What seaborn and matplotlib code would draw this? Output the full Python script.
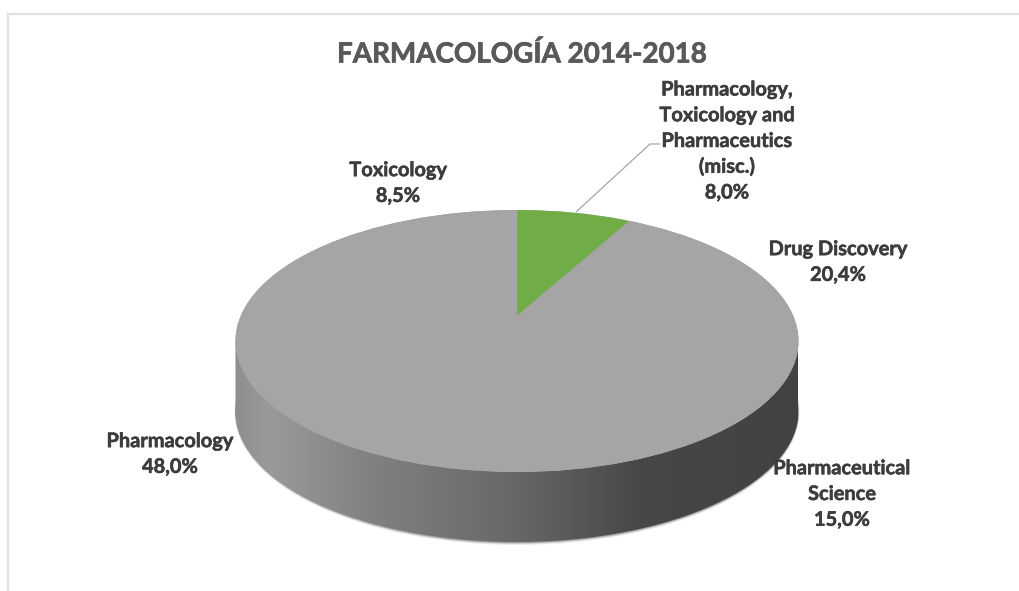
import numpy as np
import matplotlib
matplotlib.use("Agg")
import matplotlib.pyplot as plt
import matplotlib.patheffects as pe
from matplotlib.patches import Ellipse, Circle, PathPatch
from matplotlib.path import Path
from matplotlib.colors import LinearSegmentedColormap
import seaborn as sns

title = "FARMACOLOGÍA 2014-2018"
categories = ["Pharmacology,\nToxicology and\nPharmaceutics\n(misc.)", "Drug Discovery",
              "Pharmaceutical\nScience", "Pharmacology", "Toxicology"]
values = [8.0, 20.4, 15.0, 48.0, 8.5]
slice_colors = ["#70AD47", "#A5A5A5", "#A5A5A5", "#A5A5A5", "#A5A5A5"]

W, H = 1020, 591
CX, CY, RX, RY, DEPTH, APEX = 517, 341, 281.5, 131, 70, 316

sns.set_theme(style="white")
plt.rcParams['font.family'] = ['Lato', 'DejaVu Sans']
palette = sns.color_palette(slice_colors)

fig = plt.figure(figsize=(W / 100, H / 100), dpi=100, facecolor="white")
bg = fig.add_axes([0, 0, 1, 1])
bg.set_xlim(0, W)
bg.set_ylim(H, 0)
bg.axis("off")

# chart frame, cropped at right and bottom
bg.plot([8.5, 8.5, W], [H, 13.5, 13.5], color="#E2E2E2", lw=1.6, solid_joinstyle="miter")

# soft shadow under the wall
for grow, alpha in [(3.0, 0.08), (2.0, 0.14), (1.0, 0.22)]:
    bg.add_patch(Ellipse((CX, CY + DEPTH + grow * 0.4), 2 * (RX + grow * 0.3), 2 * (RY + grow * 0.6),
                         fc="black", ec="none", alpha=alpha, zorder=0.5))

# wall of the disc: horizontal gradient clipped to the extruded ellipse
t = np.linspace(0, np.pi, 200)
xs = CX + RX * np.cos(t)
ys = CY + DEPTH + RY * np.sin(t)
verts = np.column_stack([np.r_[CX + RX, xs, CX - RX], np.r_[CY, ys, CY]])
wall = Path(np.r_[verts, verts[:1]], closed=True)
wall_patch = PathPatch(wall, transform=bg.transData, fc="none", ec="none")
bg.add_patch(wall_patch)
cmap = LinearSegmentedColormap.from_list("wall", [
    (0.0, "#8E8E8E"), (0.06, "#9A9A9A"), (0.25, "#808080"), (0.5, "#676767"),
    (0.72, "#474747"), (1.0, "#424242")])
grad = np.linspace(0, 1, 512)[None, :]
im = bg.imshow(grad, cmap=cmap, vmin=0, vmax=1, aspect="auto", zorder=1,
               extent=(CX - RX, CX + RX, CY + DEPTH + RY, CY), interpolation="bilinear")
im.set_clip_path(wall_patch)
bg.set_xlim(0, W)
bg.set_ylim(H, 0)

# top face: the pie is squeezed to an ellipse; its apex sits off the ellipse centre
pie_ax = fig.add_axes([(CX - 1.25 * RX) / W, 1 - (CY + 1.25 * RY) / H, 2.5 * RX / W, 2.5 * RY / H])
wedges, _ = pie_ax.pie(values, colors=palette, startangle=90, counterclock=False,
                       radius=4, center=(0, (CY - APEX) / RY))
pie_ax.set_aspect("auto")
pie_ax.set_xlim(-1.25, 1.25)
pie_ax.set_ylim(-1.25, 1.25)
pie_ax.patch.set_alpha(0)
pie_ax.add_patch(Circle((0, 0), 1, fc=palette[1], ec="none", zorder=0.5))
rim = Circle((0, 0), 1, transform=pie_ax.transData)
for w, c in zip(wedges, palette):
    w.set_edgecolor(c)
    w.set_linewidth(0.3)
    w.set_clip_on(True)
    w.set_clip_path(rim)

# texts on top
fg = fig.add_axes([0, 0, 1, 1])
fg.set_xlim(0, W)
fg.set_ylim(H, 0)
fg.axis("off")
fg.patch.set_alpha(0)

fg.text(522, 54, title, ha="center", va="center", fontsize=20, fontweight="bold", color="#595959",
        path_effects=[pe.withStroke(linewidth=0.5, foreground="#595959")])

label_pos = [(727, 141), (838, 262), (842, 494), (170, 454), (398, 183)]
for name, v, (x, y) in zip(categories, values, label_pos):
    pct = f"{v:.1f}%".replace(".", ",")
    fg.text(x, y, f"{name}\n{pct}", ha="center", va="center", fontsize=14.4, fontweight="bold",
            color="#3D3D3D", linespacing=1.36, multialignment="center",
            path_effects=[pe.withStroke(linewidth=0.4, foreground="#3D3D3D")])

fg.plot([576, 650, 660], [212, 144, 144], color="#A6A6A6", lw=0.9)

fig.savefig("out.png", dpi=100)
